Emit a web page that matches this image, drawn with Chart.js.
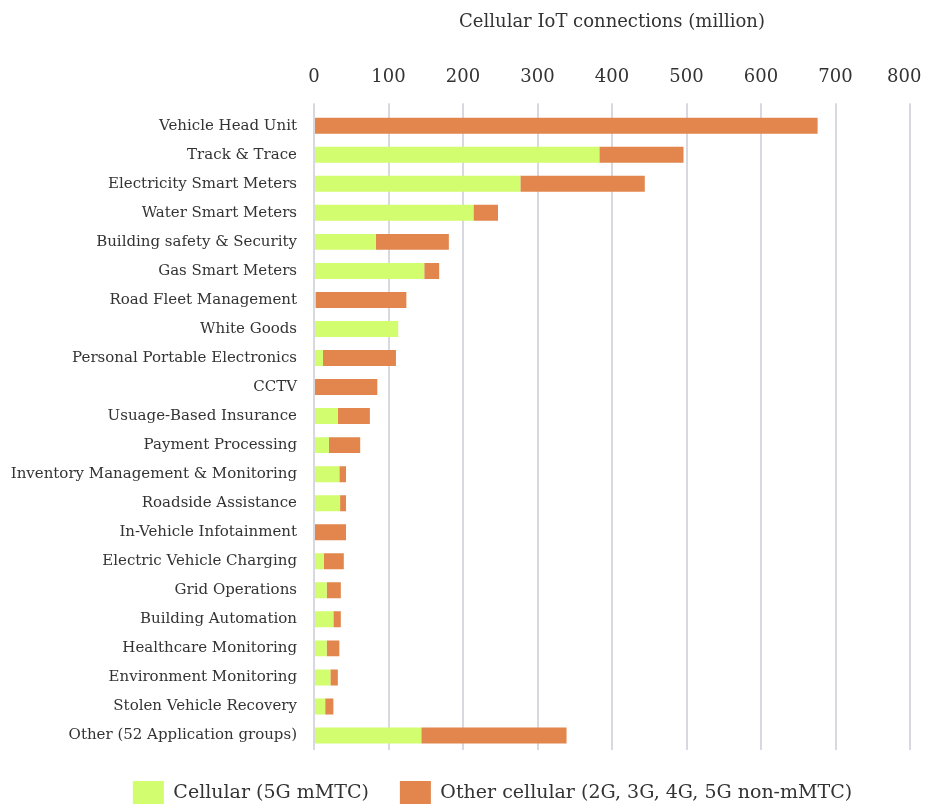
<html>
<head>
    <title>Cellular IoT connections</title>
    <script src="https://cdn.jsdelivr.net/npm/chart.js"></script>
    <style>
        html, body { margin: 0; padding: 0; background: #ffffff; overflow: hidden; }
        #wrap { width: 925px; height: 815px; position: relative; }
    </style>
</head>
<body>
    <div id="wrap">
        <canvas id="myChart"></canvas>
    </div>

    <script>
        const categories = [
            'Vehicle Head Unit', 'Track & Trace', 'Electricity Smart Meters', 'Water Smart Meters',
            'Building safety & Security', 'Gas Smart Meters', 'Road Fleet Management', 'White Goods',
            'Personal Portable Electronics', 'CCTV', 'Usuage-Based Insurance', 'Payment Processing',
            'Inventory Management & Monitoring', 'Roadside Assistance', 'In-Vehicle Infotainment',
            'Electric Vehicle Charging', 'Grid Operations', 'Building Automation', 'Healthcare Monitoring',
            'Environment Monitoring', 'Stolen Vehicle Recovery', 'Other (52 Application groups)'
        ];
        // 5G mMTC connections (million)
        const mmtc = [0, 383, 277, 214, 83, 148, 2, 113, 12, 0, 32, 20, 34, 35, 0, 13, 17, 26, 17, 22, 15, 144];
        // 2G / 3G / 4G / 5G non-mMTC connections (million)
        const otherCellular = [676, 113, 167, 33, 98, 20, 122, 0, 98, 85, 43, 42, 9, 8, 43, 27, 19, 10, 17, 10, 11, 195];
        const xTicks = [0, 100, 200, 300, 400, 500, 600, 700, 800];

        const FONT = 'Roboto Slab, "DejaVu Serif", serif';
        const TEXT = '#333333';
        const GRID = '#d8d8e0';

        const data = {
            labels: categories,
            datasets: [
                {
                    label: 'Cellular (5G mMTC)',
                    data: mmtc,
                    backgroundColor: '#d2fd6e',
                    borderWidth: 0
                },
                {
                    label: 'Other cellular (2G, 3G, 4G, 5G non-mMTC)',
                    data: otherCellular,
                    backgroundColor: '#e2864d',
                    borderWidth: 0
                }
            ]
        };

        // the legend sits a little right of centre in the original
        const legendShift = {
            id: 'legendShift',
            afterLayout(chart) {
                const lg = chart.legend;
                if (lg) {
                    lg.left += 30;
                    lg.right += 30;
                }
            }
        };

        const config = {
            type: 'bar',
            data: data,
            plugins: [legendShift],
            options: {
                indexAxis: 'y',
                responsive: true,
                maintainAspectRatio: false,
                animation: false,
                categoryPercentage: 1,
                barPercentage: 0.55,
                layout: { padding: 0 },
                scales: {
                    x: {
                        position: 'top',
                        stacked: true,
                        min: xTicks[0],
                        max: xTicks[xTicks.length - 1],
                        afterBuildTicks: (axis) => {
                            axis.ticks = xTicks.map(v => ({ value: v }));
                        },
                        afterFit: (scale) => { scale.paddingRight = 15; },
                        border: { display: false },
                        grid: { color: GRID, lineWidth: 2, tickLength: 8, tickColor: GRID },
                        ticks: {
                            color: TEXT,
                            padding: 15,
                            font: { family: FONT, size: 18 },
                            // nudge the last label left so it stays inside the canvas
                            callback: (v, i, ticks) => i === ticks.length - 1 ? v + '  ' : v
                        },
                        title: {
                            display: true,
                            text: 'Cellular IoT connections (million)',
                            color: TEXT,
                            font: { family: FONT, size: 18 },
                            padding: { top: 12, bottom: 18 }
                        }
                    },
                    y: {
                        stacked: true,
                        border: { display: false },
                        grid: { display: false, drawTicks: false },
                        ticks: { color: TEXT, padding: 17, font: { family: FONT, size: 15 } },
                        afterFit: (scale) => { scale.width = 314; }
                    }
                },
                plugins: {
                    legend: {
                        position: 'bottom',
                        labels: {
                            color: TEXT,
                            boxWidth: 31,
                            boxHeight: 24,
                            padding: 31,
                            font: { family: FONT, size: 19 }
                        }
                    },
                    tooltip: { enabled: true }
                }
            }
        };
    </script>
    <script>
        const myChart = new Chart(
            document.getElementById('myChart'),
            config
        );
    </script>
</body>
</html>
